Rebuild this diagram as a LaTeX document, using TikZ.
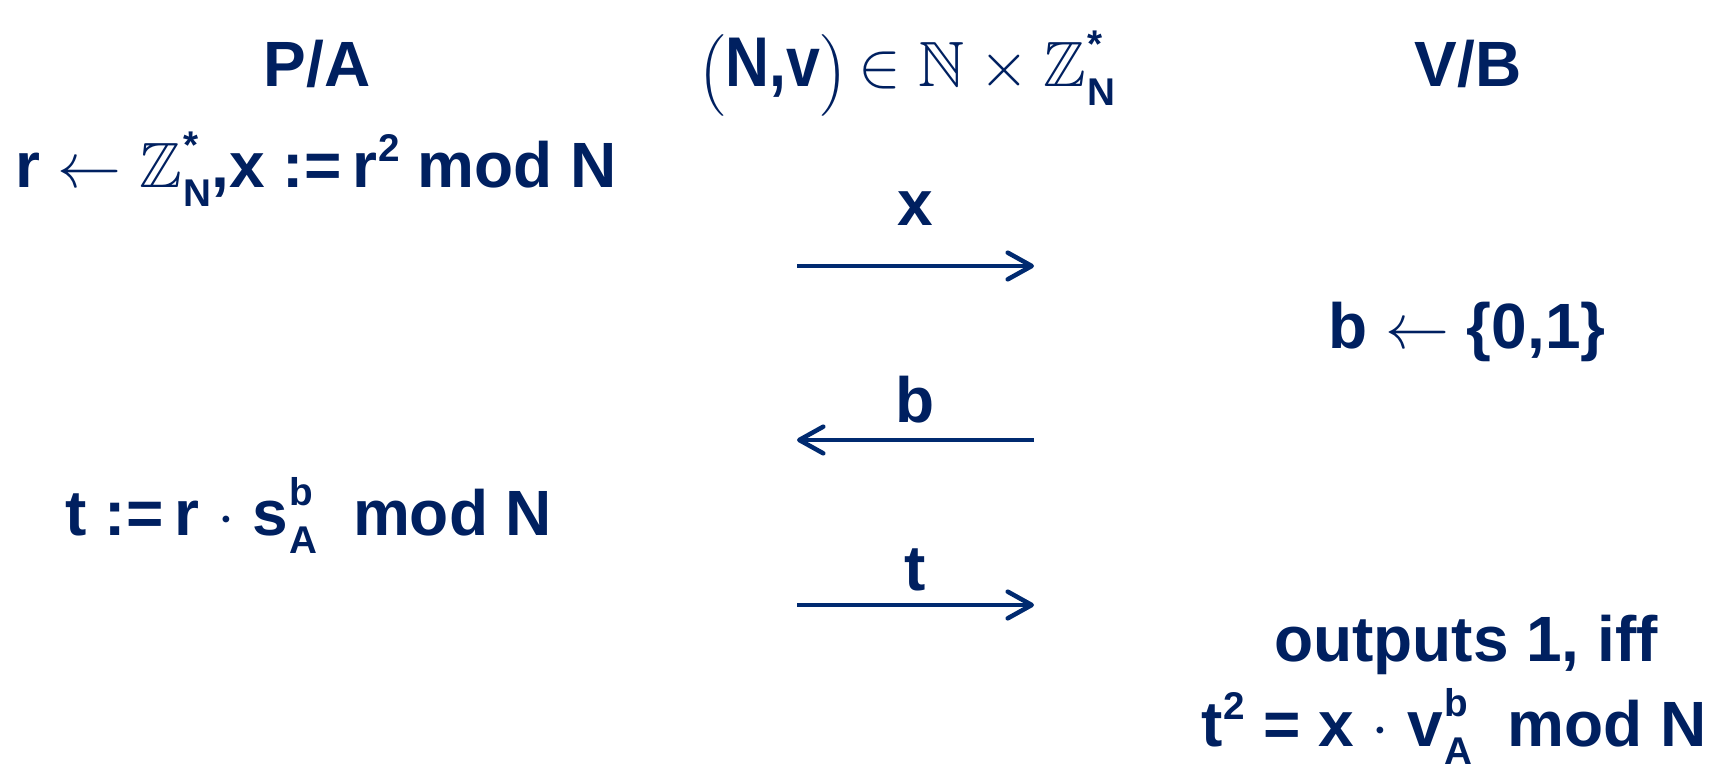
\RequirePackage{fix-cm}
\documentclass[tikz,border=0pt]{standalone}
\usepackage{amsmath,amssymb,graphicx}
\DeclareFontFamily{U}{msb}{}
\DeclareFontShape{U}{msb}{m}{n}{<-6> msbm5 <6-8> msbm7 <8-> msbm10}{}
\usepackage{fontspec}
\setmainfont{Liberation Sans}
\usetikzlibrary{arrows.meta}
\definecolor{navy}{RGB}{0,32,96}
\definecolor{arrowblue}{RGB}{0,42,112}
\newcommand{\scr}[1]{{\fontsize{29}{32}\selectfont #1}}
\newcommand{\supsubx}[2]{\kern1pt\rlap{\raisebox{22pt}{\scr{#1}}}\raisebox{-14pt}{\scr{#2}}}
\newcommand{\supx}[1]{\kern1pt\raisebox{20pt}{\scr{#1}}}
\newcommand{\ZN}{$\mathbb{Z}$\supsubx{*}{N}}
\newcommand{\bigparen}[1]{{\fontsize{34}{41}\selectfont$\Bigl#1$}}
\begin{document}
\begin{tikzpicture}[x=0.75pt,y=-0.75pt,
  txt/.style={text=navy,font=\fontsize{48}{58}\selectfont\bfseries,inner sep=0pt,anchor=base},
  msg/.style={draw=arrowblue,line width=3.4pt,-{Straight Barb[length=18pt,width=20pt,line cap=round,line join=round]}}]
\useasboundingbox (0,0) rectangle (1725,781);
\node[txt] (pa) at (317,87) {P/A};
\node[txt] (hdr) at (907,87) {\bigparen(\scalebox{0.95}[1.1]{N,v}\bigparen)\,$\in\mathbb{N}\times\mathbb{Z}$\supsubx{*}{N}};
\node[txt] (vb) at (1468,87) {V/B};
\node[txt] (commit) at (316,188) {r $\leftarrow$ \ZN,x :=\,r\supx{2} mod N};
\node[txt] (lx) at (915,226) {x};
\coordinate (xs) at (797,266);
\coordinate (xe) at (1034,266);
\draw[msg] (xs) -- (xe);
\node[txt] (chal) at (1467,348) {b $\leftarrow$ \{0,1\}};
\node[txt] (lb) at (915,422) {b};
\coordinate (bs) at (1034,440);
\coordinate (be) at (797,440);
\draw[msg] (bs) -- (be);
\node[txt] (resp) at (309,535) {t :=\,r $\cdot$ s\supsubx{b}{A}\ \ mod N};
\node[txt] (lt) at (915,590) {t};
\coordinate (ts) at (797,605);
\coordinate (te) at (1034,605);
\draw[msg] (ts) -- (te);
\node[txt] (out) at (1466,661) {outputs 1, iff};
\node[txt] (check) at (1454,746) {t\supx{2} = x $\cdot$ v\supsubx{b}{A}\ \ mod N};
\end{tikzpicture}
\end{document}
